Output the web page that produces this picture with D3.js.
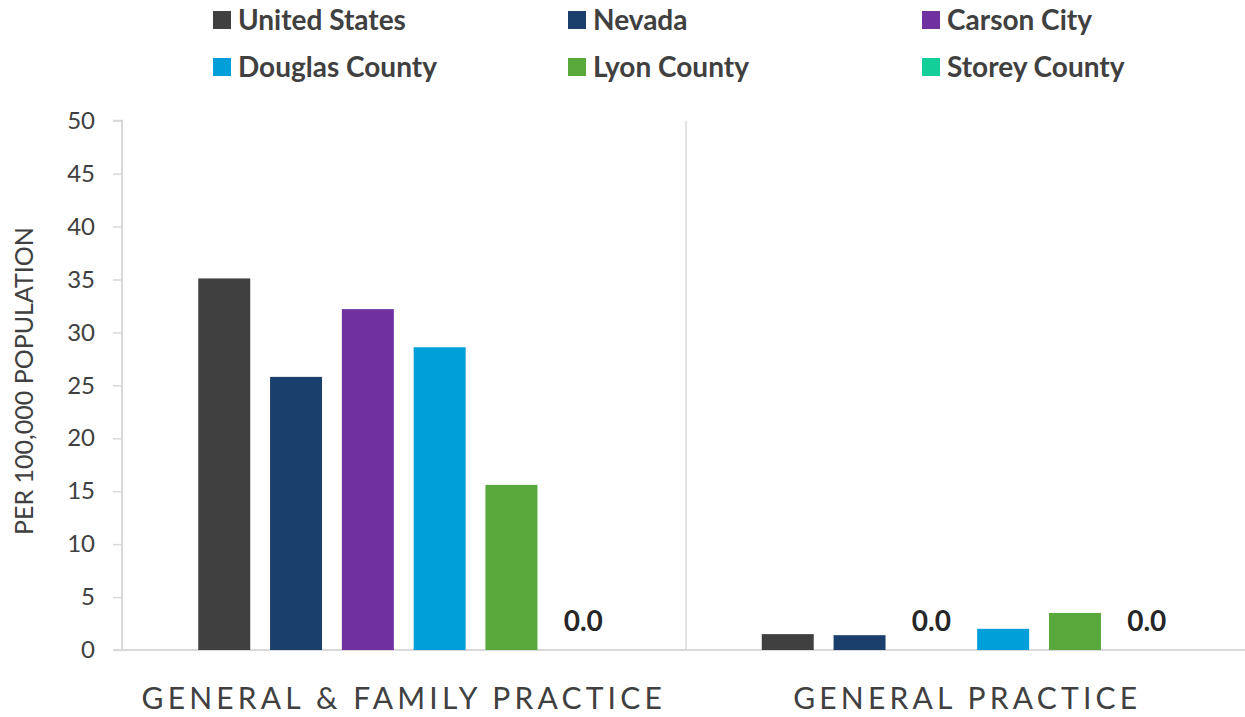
<!DOCTYPE html>
<html>
<head>
<meta charset="utf-8">
<script src="https://cdn.jsdelivr.net/npm/d3@7"></script>
<style>
  html, body { margin: 0; padding: 0; background: #fff; }
  svg { display: block; font-family: Lato, "Open Sans", sans-serif; }
</style>
</head>
<body>
<svg id="chart" width="1245" height="717"></svg>
<script>
// Physician supply per 100,000 population
const categories = ["GENERAL & FAMILY PRACTICE", "GENERAL PRACTICE"];
const seriesNames = ["United States", "Nevada", "Carson City", "Douglas County", "Lyon County", "Storey County"];
const seriesColors = ["#404040", "#1b3f6c", "#7030a0", "#009fd9", "#59a83b", "#13ce99"];
const unitedStates = [35.1, 1.5];
const nevada = [25.8, 1.4];
const carsonCity = [32.2, 0.0];
const douglasCounty = [28.6, 2.0];
const lyonCounty = [15.6, 3.5];
const storeyCounty = [0.0, 0.0];
const yTicks = [0, 5, 10, 15, 20, 25, 30, 35, 40, 45, 50];
const yTitle = "PER 100,000 POPULATION";

const seriesValues = [unitedStates, nevada, carsonCity, douglasCounty, lyonCounty, storeyCounty];

const svg = d3.select("#chart");
const plotLeft = 122, plotRight = 1249, plotTop = 120.7, plotBottom = 650;

const x0 = d3.scaleBand().domain(categories).range([plotLeft, plotRight]).padding(0);
const x1 = d3.scaleBand().domain(seriesNames).range([0, x0.bandwidth()])
  .paddingInner(0.276).paddingOuter(1.062);
const y = d3.scaleLinear().domain([0, 50]).range([plotBottom, plotTop]);

const gridColor = "#d9d9d9";
const textColor = "#404040";

// Divider between category groups
svg.append("line")
  .attr("x1", x0(categories[1]) + 0.5).attr("x2", x0(categories[1]) + 0.5)
  .attr("y1", y(50)).attr("y2", plotBottom)
  .attr("stroke", gridColor).attr("stroke-width", 1.5);

// Y axis
const yAxis = d3.axisLeft(y).tickValues(yTicks).tickSize(9).tickPadding(18);
const gy = svg.append("g").attr("transform", `translate(${plotLeft},0)`).call(yAxis);
gy.select(".domain").attr("stroke", gridColor).attr("stroke-width", 2)
  .attr("d", `M-9,${y(50)}H0V${plotBottom}`);
gy.selectAll(".tick line").attr("stroke", gridColor).attr("stroke-width", 1.5);
gy.selectAll(".tick text").attr("fill", textColor)
  .style("font-size", "24px").style("font-family", "Lato, sans-serif");

// Baseline
svg.append("line")
  .attr("x1", plotLeft - 9).attr("x2", 1245)
  .attr("y1", plotBottom).attr("y2", plotBottom)
  .attr("stroke", gridColor).attr("stroke-width", 2);

// Bars
const rows = [];
categories.forEach((c, ci) => {
  seriesNames.forEach((s, si) => {
    rows.push({ cat: c, series: s, value: seriesValues[si][ci], color: seriesColors[si] });
  });
});

svg.append("g").selectAll("rect")
  .data(rows.filter(d => d.value > 0))
  .join("rect")
  .attr("x", d => x0(d.cat) + x1(d.series))
  .attr("width", x1.bandwidth())
  .attr("y", d => y(d.value))
  .attr("height", d => y(0) - y(d.value))
  .attr("fill", d => d.color);

// Zero-value labels
svg.append("g").selectAll("text")
  .data(rows.filter(d => d.value === 0))
  .join("text")
  .attr("x", d => x0(d.cat) + x1(d.series) + x1.bandwidth() / 2)
  .attr("y", d => y(d.value) - 19)
  .attr("text-anchor", "middle")
  .attr("fill", "#262626")
  .style("font-size", "28px").style("font-weight", "bold")
  .text(d => d.value.toFixed(1));

// Category labels
svg.append("g").selectAll("text")
  .data(categories)
  .join("text")
  .attr("x", d => x0(d) + x0.bandwidth() / 2)
  .attr("y", 709)
  .attr("text-anchor", "middle")
  .attr("fill", textColor)
  .style("font-size", "30px").style("letter-spacing", "4.2px")
  .text(d => d);

// Y axis title
svg.append("text")
  .attr("transform", "translate(33,381) rotate(-90)")
  .attr("text-anchor", "middle")
  .attr("fill", textColor)
  .style("font-size", "25px")
  .text(yTitle);

// Legend
const legend = svg.append("g");
const legendCols = [213, 568, 922];
const legendRows = [20, 67];
seriesNames.forEach((s, i) => {
  const gx = legendCols[i % 3], gyy = legendRows[Math.floor(i / 3)];
  const g = legend.append("g").attr("transform", `translate(${gx},${gyy})`);
  g.append("rect").attr("x", 0).attr("y", -9).attr("width", 18).attr("height", 18)
    .attr("fill", seriesColors[i]);
  g.append("text").attr("x", 25).attr("y", 0).attr("dy", "0.35em")
    .attr("fill", textColor)
    .style("font-size", "28px").style("font-weight", "bold")
    .text(s);
});
</script>
</body>
</html>
